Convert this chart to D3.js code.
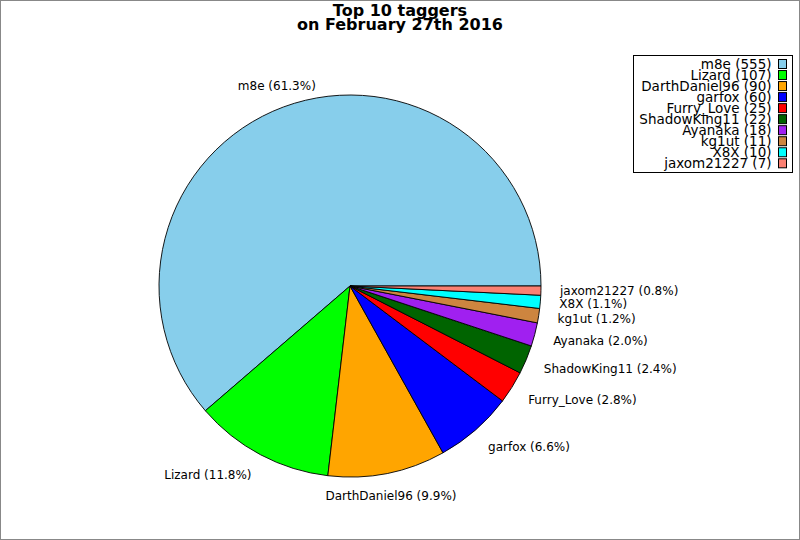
<!DOCTYPE html>
<html><head><meta charset="utf-8">
<script src="https://cdn.jsdelivr.net/npm/d3@7"></script>
<style>body{margin:0;background:#fff}svg{display:block}text{font-family:"DejaVu Sans",sans-serif}</style>
</head><body>
<svg id="c" width="800" height="540"></svg>
<script>
const names = ["m8e","Lizard","DarthDaniel96","garfox","Furry_Love","ShadowKing11","Ayanaka","kg1ut","X8X","jaxom21227"];
const counts = [555,107,90,60,25,22,18,11,10,7];
const colors = ["#87CEEB","#00FF00","#FFA500","#0000FF","#FF0000","#006400","#A020F0","#CD853F","#00FFFF","#FA8072"];
const titleLines = ["Top 10 taggers","on February 27th 2016"];

const svg = d3.select("#c");
svg.append("rect").attr("x",0.5).attr("y",0.5).attr("width",799).attr("height",539)
  .attr("fill","#fff").attr("stroke","#888").attr("stroke-width",1);

const cx = 350, cy = 286, R = 191;
const total = d3.sum(counts);
const data = names.map((n,i)=>({name:n,value:counts[i],color:colors[i]}));
const pie = d3.pie().value(d=>d.value).sort(null)
  .startAngle(Math.PI/2).endAngle(Math.PI/2 - 2*Math.PI);
const arcs = pie(data);
const arc = d3.arc().innerRadius(0).outerRadius(R);
const g = svg.append("g").attr("transform",`translate(${cx},${cy})`);
g.selectAll("path").data(arcs).join("path")
  .attr("d",arc).attr("fill",d=>d.data.color)
  .attr("stroke","#000").attr("stroke-width",0.9).attr("stroke-linejoin","round");

const fmt = d3.format(".1f");
g.selectAll("text.lbl").data(arcs).join("text").attr("class","lbl")
  .each(function(d){
    const a = (d.startAngle + d.endAngle)/2;
    const x = Math.sin(a)*R*1.1, y = -Math.cos(a)*R*1.12;
    const c = Math.sin(a);
    const anchor = Math.abs(c) < 0.4 ? "middle" : (x > 0 ? "start" : "end");
    d3.select(this).attr("x",x).attr("y",y).attr("dy","0.35em")
      .attr("text-anchor",anchor).attr("font-size","12px").attr("fill","#000")
      .text(`${d.data.name} (${fmt(d.data.value/total*100)}%)`);
  });

svg.append("g").selectAll("text").data(titleLines).join("text")
  .attr("x",400).attr("y",(d,i)=>16 + i*13.5).attr("text-anchor","middle")
  .attr("font-size","16px").attr("font-weight","bold").text(d=>d);

// legend
const lg = svg.append("g");
lg.append("rect").attr("x",633.5).attr("y",55.5).attr("width",159).attr("height",117)
  .attr("fill","#fff").attr("stroke","#000").attr("stroke-width",1);
const rowY = d3.scaleLinear().domain([0,9]).range([64,163.3]);
const rows = lg.selectAll("g.row").data(data).join("g").attr("class","row")
  .attr("transform",(d,i)=>`translate(0,${rowY(i)})`);
rows.append("text").attr("x",771.5).attr("dy","0.36em").attr("text-anchor","end")
  .attr("font-size","13.5px").text(d=>`${d.name} (${d.value})`);
rows.append("rect").attr("x",778.5).attr("y",-4.5).attr("width",8).attr("height",9)
  .attr("fill",d=>d.color).attr("stroke","#000").attr("stroke-width",1);
</script>
</body></html>
